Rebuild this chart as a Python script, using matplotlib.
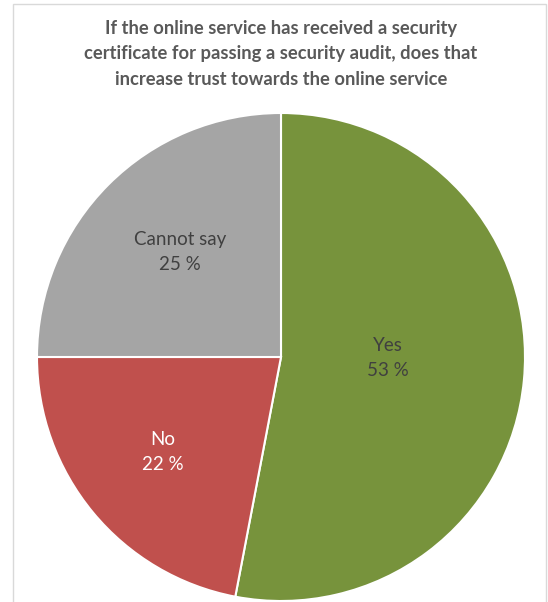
import matplotlib
matplotlib.use("Agg")
import matplotlib.pyplot as plt
from matplotlib.patches import Rectangle

# ── Data ─────────────────────────────────────────────────────────────────────
categories = ["Yes", "No", "Cannot say"]
shares = [53, 22, 25]
colors = ["#77933C", "#C0504D", "#A5A5A5"]
label_colors = ["#404040", "#FFFFFF", "#404040"]
title = ("If the online service has received a security\n"
         "certificate for passing a security audit, does that\n"
         "increase trust towards the online service")

plt.rcParams["font.family"] = ["Lato", "DejaVu Sans"]

W, H = 548, 602
fig = plt.figure(figsize=(W / 100, H / 100), dpi=100)

# light chart frame
fig.patches.append(Rectangle((13 / W, -0.01), (546 - 13) / W, (H - 4) / H + 0.01,
                             transform=fig.transFigure, fill=False,
                             edgecolor="#D9D9D9", linewidth=1.0))

fig.text(281 / W, 1 - 54 / H, title, ha="center", va="center",
         fontsize=13.2, fontweight="bold", color="#595959", linespacing=1.58)

# pie axes: centre (281, 357), radius ~244 px
cx, cy, r = 281, 357, 244
ax = fig.add_axes([(cx - r) / W, 1 - (cy + r) / H, 2 * r / W, 2 * r / H])
wedges, _ = ax.pie(shares, colors=colors, startangle=90, counterclock=False,
                   wedgeprops=dict(edgecolor="white", linewidth=1.5))
ax.set_xlim(-1, 1)
ax.set_ylim(-1, 1)
ax.set_aspect("equal")
ax.axis("off")

# data labels placed inside each wedge
label_pos = [(388, 358), (163, 452), (180, 252)]
for cat, val, (lx, ly), tc in zip(categories, shares, label_pos, label_colors):
    x = (lx - cx) / r
    y = (cy - ly) / r
    ax.text(x, y, f"{cat}\n{val} %", ha="center", va="center",
            fontsize=13.5, color=tc, linespacing=1.6)

fig.savefig("out.png", dpi=100)
